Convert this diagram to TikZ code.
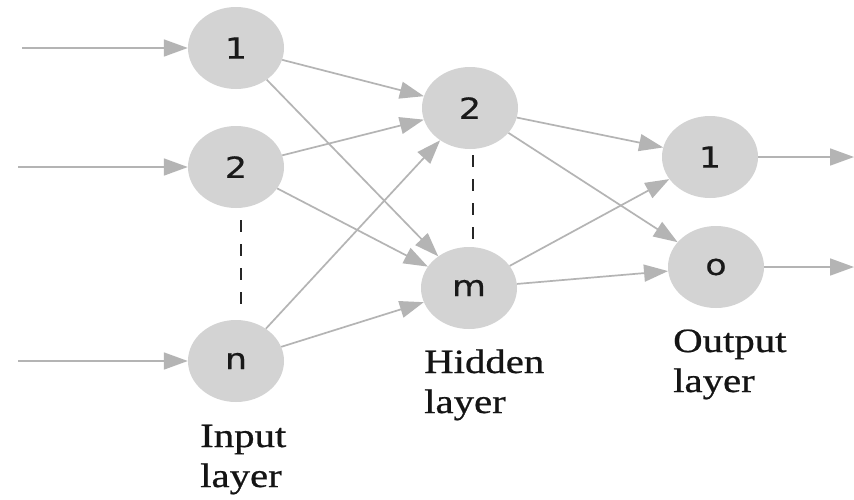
\documentclass[tikz,border=0pt]{standalone}
\usepackage{fontspec}
\usepackage{graphicx}
\setmainfont{Liberation Serif}
\newfontfamily\captionface[FakeBold=0.6]{Liberation Serif}
\newfontfamily\unitfont[FakeBold=0.4]{DejaVu Sans}
\usetikzlibrary{arrows.meta,shapes.geometric}
\definecolor{unitfill}{HTML}{D3D3D3}
\definecolor{linkgray}{HTML}{B4B4B4}
\definecolor{labelink}{HTML}{141414}
\newcommand\widetext[1]{\scalebox{1.2}[1]{#1}}
\tikzset{
  unit/.style={ellipse, fill=unitfill, draw=none, minimum width=96pt,
    minimum height=82pt, inner sep=0pt, text=black!90,
    font=\unitfont\fontsize{29}{29}\selectfont},
  link/.style={draw=linkgray, line width=1.7pt,
    -{Triangle[length=24pt,width=17pt]}},
  etc/.style={draw=black!85, line width=2pt, dash pattern=on 12pt off 12pt},
  layerlabel/.style={anchor=base west, inner sep=0pt, text=labelink,
    font=\captionface\fontsize{34}{40}\selectfont}
}
\begin{document}
\begin{tikzpicture}[x=1pt, y=-1pt]
\useasboundingbox (0,0) rectangle (854,499);
\fill[white] (0,0) rectangle (854,499);

% input layer
\node[unit] (i1) at (236,48)  {\widetext{1}};
\node[unit] (i2) at (236,167) {\widetext{2}};
\node[unit] (in) at (236,361) {\widetext{n}};
% hidden layer
\node[unit] (h2) at (470,108) {\widetext{2}};
\node[unit] (hm) at (469,288) {\widetext{m}};
% output layer
\node[unit] (o1) at (710,157) {\widetext{1}};
\node[unit] (oo) at (716,267) {\widetext{o}};

% free ends of the input and output arrows
\coordinate (s1) at (22,48);
\coordinate (s2) at (18,167);
\coordinate (s3) at (18,361);
\coordinate (e1) at (854,157);
\coordinate (e2) at (854,267);

% ends of the dashed "and so on" marks
\coordinate (da) at (241,220);
\coordinate (db) at (241,304);
\coordinate (dc) at (473,155);
\coordinate (dd) at (473,239);

% connections
\draw[link] (s1) -- (i1);
\draw[link] (s2) -- (i2);
\draw[link] (s3) -- (in);

\draw[link] (i1) -- (h2);
\draw[link] (i1) -- (hm);
\draw[link] (i2) -- (h2);
\draw[link] (i2) -- (hm);
\draw[link] (in) -- (h2);
\draw[link] (in) -- (hm);

\draw[link] (h2) -- (o1);
\draw[link] (h2) -- (oo);
\draw[link] (hm) -- (o1);
\draw[link] (hm) -- (oo);

\draw[link] (o1) -- (e1);
\draw[link] (oo) -- (e2);

\draw[etc] (da) -- (db);
\draw[etc] (dc) -- (dd);

% layer captions
\node[layerlabel] (inA)  at (200,447) {\widetext{Input}};
\node[layerlabel] (inB)  at (200,487) {\widetext{layer}};
\node[layerlabel] (hidA) at (424,373) {\widetext{Hidden}};
\node[layerlabel] (hidB) at (424,413) {\widetext{layer}};
\node[layerlabel] (outA) at (673,352) {\widetext{Output}};
\node[layerlabel] (outB) at (673,392) {\widetext{layer}};
\end{tikzpicture}
\end{document}
